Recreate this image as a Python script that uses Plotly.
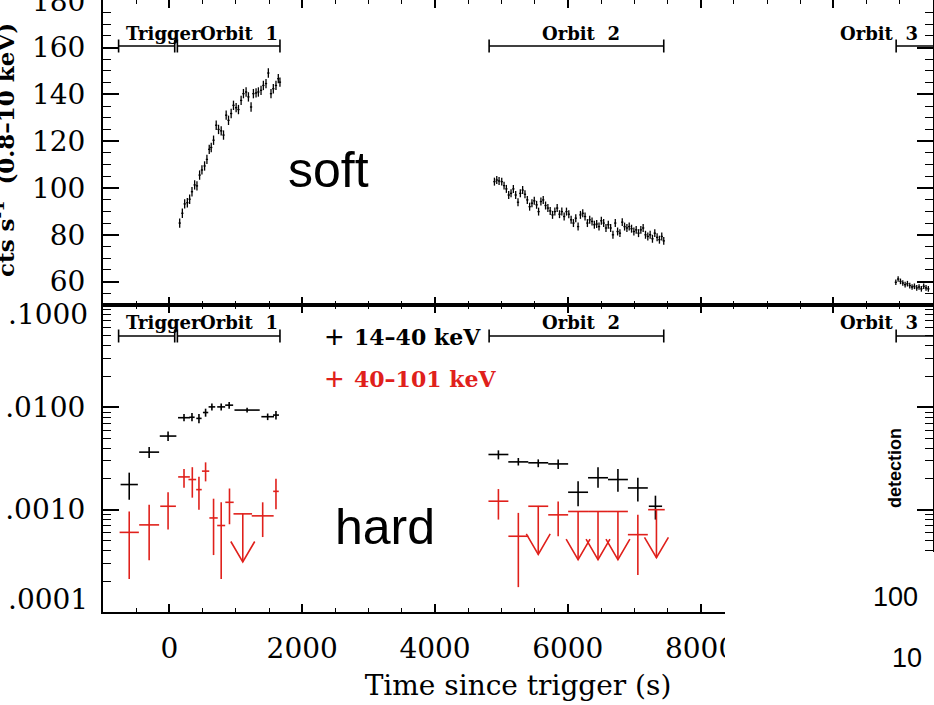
import plotly.graph_objects as go
from plotly.subplots import make_subplots

# ---- XRT soft light curve, 0.8-10 keV (counts/s) ----
xrt_t1 = [155, 195, 230, 270, 305, 340, 380, 415, 455, 490, 530, 565, 600, 630,
          665, 705, 740, 780, 815, 855, 890, 930, 965, 1005, 1040, 1080, 1115,
          1155, 1190, 1230, 1265, 1305, 1340, 1380, 1415, 1455, 1490, 1530,
          1565, 1605, 1640, 1665]
xrt_r1 = [85.0, 89.2, 93.2, 93.7, 95.2, 98.4, 101.3, 100.9, 105.5, 107.7, 109.4,
          112.2, 116.5, 117.3, 120.4, 126.8, 125.0, 124.4, 122.6, 131.1, 128.9,
          131.8, 135.3, 134.3, 133.5, 137.4, 140.3, 141.0, 138.9, 134.6, 140.3,
          140.6, 141.0, 141.7, 143.8, 144.6, 149.1, 140.3, 142.4, 143.8, 146.7,
          145.2]
xrt_t2 = [4895, 4930, 4965, 5005, 5040, 5075, 5110, 5145, 5180, 5215, 5250, 5285,
          5320, 5355, 5390, 5425, 5460, 5495, 5530, 5560, 5595, 5630, 5665, 5700,
          5735, 5770, 5805, 5840, 5875, 5910, 5945, 5980, 6015, 6050, 6085, 6120,
          6155, 6190, 6225, 6260, 6295, 6330, 6365, 6400, 6435, 6470, 6505, 6540,
          6575, 6610, 6645, 6680, 6715, 6750, 6785, 6820, 6855, 6890, 6925, 6960,
          6995, 7030, 7065, 7100, 7135, 7170, 7205, 7240, 7275, 7310, 7345, 7380,
          7415, 7445]
xrt_r2 = [102.7, 103.4, 103.0, 102.7, 101.0, 99.6, 97.0, 97.7, 99.6, 97.0, 93.9,
          97.7, 99.1, 97.3, 94.9, 92.0, 93.5, 94.5, 92.8, 89.9, 94.2, 94.9, 92.5,
          91.4, 90.2, 88.5, 89.9, 91.4, 88.8, 89.9, 87.8, 89.9, 88.8, 86.4, 85.0,
          87.1, 83.5, 88.5, 89.2, 87.8, 85.0, 86.4, 85.7, 84.3, 84.6, 83.5, 86.0,
          85.0, 82.9, 84.3, 82.9, 80.0, 85.0, 81.4, 80.7, 85.4, 83.5, 82.9, 83.5,
          82.6, 81.4, 82.1, 80.7, 82.1, 82.9, 80.0, 79.3, 80.0, 78.3, 80.7, 78.9,
          77.9, 79.3, 77.4]
xrt_t3 = [10940, 10975, 11010, 11045, 11080, 11115, 11150, 11185, 11220, 11255,
          11290, 11325, 11360, 11395, 11430]
xrt_r3 = [59.7, 61.1, 60.1, 59.4, 58.7, 59.1, 58.3, 57.7, 58.0, 57.3, 57.7, 56.9,
          58.0, 57.3, 56.9]
xrt_dt = 17          # half bin width (s)
xrt_err = [2.0, 1.7, 1.2]  # rate error per orbit

# ---- BAT hard light curve, 14-40 keV ----
bat1_t = [-605, -305, -20, 220, 340, 445, 545, 640, 780, 900, 1170, 1480, 1605,
          4955, 5255, 5555, 5855, 6155, 6455, 6755, 7055, 7320]
bat1_dt = [130, 150, 125, 90, 40, 40, 40, 50, 60, 60, 190, 95, 45,
           150, 150, 150, 150, 150, 150, 150, 150, 100]
bat1_v = [0.00176, 0.00365, 0.00524, 0.00792, 0.0080, 0.0078, 0.0089, 0.0101,
          0.0101, 0.0105, 0.0094, 0.0081, 0.0084,
          0.00346, 0.00293, 0.00287, 0.0028, 0.00148, 0.00205, 0.00197, 0.00163,
          0.00108]
bat1_hi = [0.0023, 0.0041, 0.0058, 0.0086, 0.0088, 0.0086, 0.0097, 0.0109,
           0.0109, 0.0113, 0.0099, 0.0087, 0.0092,
           0.0038, 0.0032, 0.0031, 0.0031, 0.0019, 0.0026, 0.0025, 0.00205,
           0.00137]
bat1_lo = [0.00125, 0.0032, 0.0047, 0.0073, 0.0073, 0.0070, 0.0081, 0.0093,
           0.0093, 0.0097, 0.0089, 0.0075, 0.0076,
           0.0031, 0.0027, 0.0026, 0.0025, 0.00108, 0.00164, 0.0015, 0.0012,
           0.0008]

# ---- BAT hard light curve, 40-101 keV (detections) ----
bat2_t = [-605, -305, -20, 220, 345, 445, 545, 665, 780, 905, 1405, 1605,
          4955, 5255, 5855, 7055]
bat2_dt = [145, 150, 118, 88, 58, 42, 55, 63, 60, 63, 165, 42,
           150, 150, 150, 150]
bat2_v = [0.0006, 0.00071, 0.00108, 0.00209, 0.00197, 0.00157, 0.00238, 0.00083,
          0.0007, 0.00118, 0.00087, 0.00151,
          0.00121, 0.00055, 0.00089, 0.00057]
bat2_hi = [0.00096, 0.00112, 0.00148, 0.0025, 0.0026, 0.0021, 0.0029, 0.00128,
           0.00118, 0.00161, 0.00118, 0.0020,
           0.00159, 0.00093, 0.0012, 0.00089]
bat2_lo = [0.00021, 0.00032, 0.00064, 0.00164, 0.00131, 0.0010, 0.00189, 0.00036,
           0.00021, 0.00072, 0.00054, 0.00101,
           0.0008, 0.000175, 0.00055, 0.00023]
# 40-101 keV upper limits
ul_t = [1105, 5555, 6155, 6455, 6755, 7335]
ul_dt = [140, 150, 150, 150, 150, 125]
ul_v = [0.00091, 0.00108, 0.00096, 0.00096, 0.00096, 0.0010]

# ---- orbit brackets ----
orbit_lbl = ["Trigger", "Orbit\u00a0\u00a01", "Orbit\u00a0\u00a02", "Orbit\u00a0\u00a03"]
orbit_t0 = [-765, 120, 4815, 10945]
orbit_t1 = [80, 1665, 7445, 11700]
orbit_lbl_t = [-90, 1050, 6195, 10680]

# ---- geometry (pixels of a 934x705 page) ----
W, H = 934, 705
L, R, T, B = 103, 1, 0, 93
PW, PH = W - L - R, H - T - B
SPLIT = 305  # pixel row where the two panels meet


def px(x):
    return (x - L) / PW


def py(y):
    return (H - B - y) / PH


split = py(SPLIT)
SERIF = "DejaVu Serif"
SANS = "Liberation Sans"

fig = make_subplots(rows=2, cols=1, shared_xaxes=False, vertical_spacing=0)


def errbars(x, y, dx, up, down, color, width):
    return dict(
        x=x, y=y, mode="markers", showlegend=False, hoverinfo="skip",
        marker=dict(size=1, color=color),
        error_x=dict(type="data", array=dx, color=color, thickness=width, width=0),
        error_y=dict(type="data", symmetric=False, array=up, arrayminus=down,
                     color=color, thickness=width, width=0),
    )


# soft panel
for t, r, e in zip([xrt_t1, xrt_t2, xrt_t3], [xrt_r1, xrt_r2, xrt_r3], xrt_err):
    fig.add_trace(go.Scatter(**errbars(t, r, [xrt_dt] * len(t), [e] * len(t),
                                       [e] * len(t), "black", 1.3)), row=1, col=1)

# hard panel
fig.add_trace(go.Scatter(**errbars(
    bat1_t, bat1_v, bat1_dt,
    [h - v for h, v in zip(bat1_hi, bat1_v)],
    [v - l for v, l in zip(bat1_v, bat1_lo)], "black", 1.6)), row=2, col=1)
RED = "#e0201b"
fig.add_trace(go.Scatter(**errbars(
    bat2_t, bat2_v, bat2_dt,
    [h - v for h, v in zip(bat2_hi, bat2_v)],
    [v - l for v, l in zip(bat2_v, bat2_lo)], RED, 1.6)), row=2, col=1)
fig.add_trace(go.Scatter(**errbars(ul_t, ul_v, ul_dt, [0] * len(ul_t),
                                   [0] * len(ul_t), RED, 1.6)), row=2, col=1)

# upper limit arrows: shaft plus open V head
ARROW_DEC, HEAD_DEC, HEAD_HALF = 0.47, 0.2, 180
ax, ay = [], []
for t, u in zip(ul_t, ul_v):
    tip = u / 10 ** ARROW_DEC
    top = tip * 10 ** HEAD_DEC
    ax += [t, t, None, t - HEAD_HALF, t, t + HEAD_HALF, None]
    ay += [u, tip, None, top, tip, top, None]
fig.add_trace(go.Scatter(x=ax, y=ay, mode="lines", showlegend=False,
                         hoverinfo="skip", line=dict(color=RED, width=1.6)),
              row=2, col=1)

# orbit brackets in both panels
for xref, ybar, ylab in [("x", py(46), py(33)), ("x2", py(336), py(322))]:
    half = 6.5 / PH
    for name, t0, t1, tl in zip(orbit_lbl, orbit_t0, orbit_t1, orbit_lbl_t):
        line = dict(color="black", width=1.6)
        fig.add_shape(type="line", xref=xref, yref="paper", x0=t0, x1=t1,
                      y0=ybar, y1=ybar, line=line)
        for te in (t0, t1):
            fig.add_shape(type="line", xref=xref, yref="paper", x0=te, x1=te,
                          y0=ybar - half, y1=ybar + half, line=line)
        fig.add_annotation(x=tl, xref=xref, y=ylab, yref="paper", text=name,
                           showarrow=False, xanchor="center", yanchor="middle",
                           font=dict(family=SERIF, size=18, color="black",
                                     weight="bold"))

axis_common = dict(showline=True, linecolor="black", linewidth=2, mirror="ticks",
                   ticks="inside", tickcolor="black", tickwidth=1.6,
                   showgrid=False, zeroline=False, automargin=False,
                   ticklabeloverflow="allow")

fig.update_xaxes(range=[-1000, 11500], tick0=0, dtick=2000, ticklen=8,
                 tickformat="d",
                 minor=dict(ticks="inside", dtick=500, ticklen=4,
                            tickcolor="black", tickwidth=1.4),
                 **axis_common)
fig.update_xaxes(showticklabels=False, row=1, col=1)
fig.update_xaxes(row=2, col=1, showticklabels=True,
                 tickfont=dict(family=SERIF, size=28, color="black"),
                 ticklabelstandoff=10,
                 title=dict(text="Time since trigger (s)", standoff=12,
                            font=dict(family=SERIF, size=28, color="black")))

fig.update_yaxes(row=1, col=1, range=[50, 180.3], tick0=0, dtick=20, ticklen=16,
                 minor=dict(ticks="inside", dtick=5, ticklen=8,
                            tickcolor="black", tickwidth=1.4),
                 tickfont=dict(family=SERIF, size=28, color="black"),
                 ticklabelstandoff=10, domain=[split, 1], **axis_common)

decades = [1e-4, 1e-3, 1e-2, 1e-1]
minor_vals = [m * d for d in decades[:-1] for m in range(2, 10)]
fig.update_yaxes(row=2, col=1, type="log", range=[-4, -1], tickvals=decades,
                 ticktext=["", ".0010", ".0100", ""], ticklen=16,
                 minor=dict(ticks="inside", tickvals=minor_vals, ticklen=8,
                            tickcolor="black", tickwidth=1.4),
                 tickfont=dict(family=SERIF, size=28, color="black"),
                 ticklabelstandoff=10, domain=[0, split], **axis_common)
fig.update_xaxes(row=1, col=1, domain=[0, 1])
fig.update_xaxes(row=2, col=1, domain=[0, 1])

# end labels of the log axis sit inside the panel
for lbl, yy in [(".1000", 315), (".0001", 599)]:
    fig.add_annotation(x=px(90), y=py(yy), xref="paper", yref="paper", text=lbl,
                       showarrow=False, xanchor="right", yanchor="middle",
                       font=dict(family=SERIF, size=28, color="black"))

# y title of the soft panel, cut by the page edge
fig.add_annotation(x=px(4), y=py(150), xref="paper", yref="paper",
                   text="cts s<sup>-1</sup>  (0.8\u201310 keV)", textangle=-90,
                   showarrow=False, xanchor="center", yanchor="middle",
                   font=dict(family=SERIF, size=23, color="black", weight="bold"))

# legend
for lbl, yy, col in [("14\u201340 keV", 337, "black"), ("40\u2013101 keV", 379, RED)]:
    fig.add_annotation(x=px(334), y=py(yy), xref="paper", yref="paper", text="+",
                       showarrow=False, xanchor="center", yanchor="middle",
                       font=dict(family=SANS, size=32, color=col))
    fig.add_annotation(x=px(352), y=py(yy), xref="paper", yref="paper", text=lbl,
                       showarrow=False, xanchor="left", yanchor="middle",
                       font=dict(family=SERIF, size=22, color=col, weight="bold"))

# panel names
for lbl, x, y in [("soft", 328, 170), ("hard", 385, 527)]:
    fig.add_annotation(x=px(x), y=py(y), xref="paper", yref="paper", text=lbl,
                       showarrow=False, xanchor="center", yanchor="middle",
                       font=dict(family=SANS, size=50, color="black"))

# pasted corner from another figure
fig.add_shape(type="rect", xref="paper", yref="paper", layer="above",
              x0=px(725), x1=px(W + 5), y0=py(H + 5), y1=py(552),
              fillcolor="white", line=dict(width=0))
fig.add_annotation(x=px(907), y=py(510), xref="paper", yref="paper",
                   text="detection", textangle=-90, showarrow=False,
                   font=dict(family=SANS, size=18, color="black", weight="bold"))
for lbl, x, y in [("100", 895, 597), ("10", 907, 658)]:
    fig.add_annotation(x=px(x), y=py(y), xref="paper", yref="paper", text=lbl,
                       showarrow=False, xanchor="center", yanchor="middle",
                       font=dict(family=SANS, size=27, color="black"))

fig.update_layout(width=W, height=H, margin=dict(l=L, r=R, t=T, b=B),
                  paper_bgcolor="white", plot_bgcolor="white", showlegend=False)

# drop the browser's default page margin so the figure sits at the corner
fig.write_html("out.html", config={"displayModeBar": False},
               post_script="document.body.style.margin = '0';")
